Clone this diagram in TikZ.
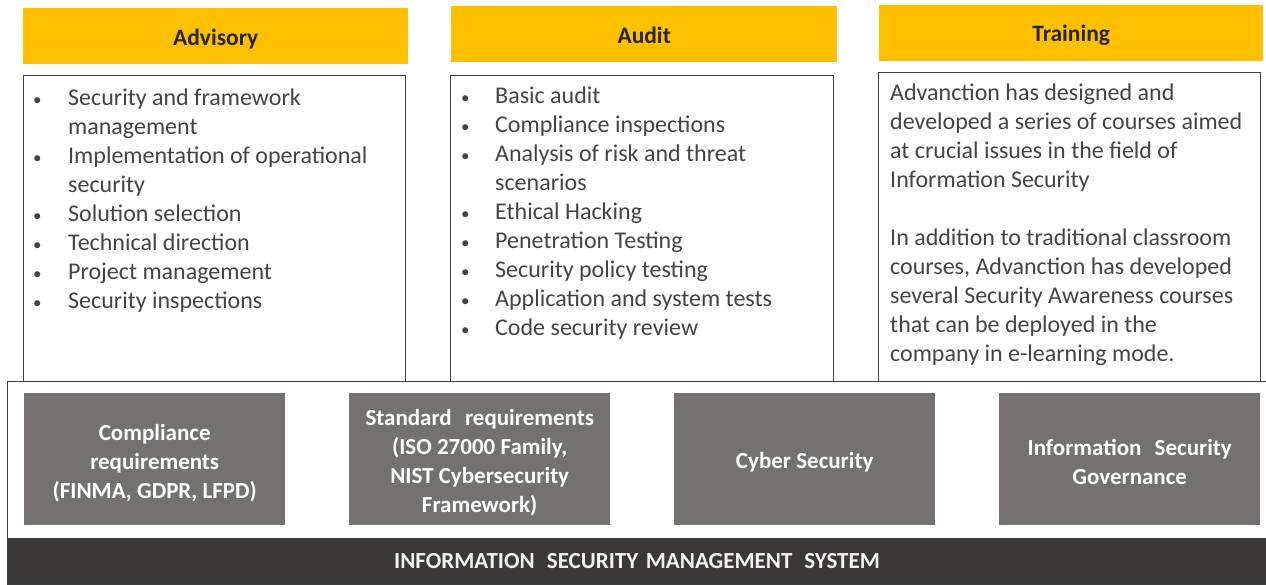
\documentclass[tikz,border=0pt]{standalone}
\usepackage{fontspec}
\setmainfont{Carlito}
\definecolor{gold}{HTML}{FFC000}
\definecolor{boxgray}{HTML}{767171}
\definecolor{bardark}{HTML}{3B3838}
\definecolor{txtgray}{HTML}{444444}
\definecolor{titletxt}{HTML}{262626}
\definecolor{linegray}{HTML}{3F3F3F}
\newcommand{\bul}{{\fontsize{17}{29}\selectfont •}}
\begin{document}
\begin{tikzpicture}[x=1pt,y=-1pt,
  headbox/.style={fill=gold, draw=none, anchor=north west, inner sep=0pt, minimum height=56pt},
  headtext/.style={text=titletxt, inner sep=0pt, font=\fontsize{23.5}{28}\selectfont\bfseries},
  panel/.style={draw=linegray, line width=1pt, fill=white},
  pillarbox/.style={fill=boxgray, anchor=north west, inner sep=0pt,
    minimum width=261pt, minimum height=132pt},
  pillartext/.style={text=white, inner sep=0pt, align=center, font=\fontsize{23}{29}\selectfont\bfseries},
  body/.style={text=txtgray, inner sep=0pt, anchor=base west, font=\fontsize{24}{29}\selectfont}]
\useasboundingbox (0,0) rectangle (1266,584);
\fill[white] (0,0) rectangle (1266,584);

% headers
\node[headbox, minimum width=385pt] (advh) at (23,8) {};
\node[headbox, minimum width=386pt] (audh) at (451,6) {};
\node[headbox, minimum width=384pt] (trah) at (879,5) {};
\node[headtext] (advht) at ([yshift=-2.5pt]advh.center) {Advisory};
\node[headtext] (audht) at ([yshift=-1pt]audh.center) {Audit};
\node[headtext] (traht) at ([yshift=-2.5pt]trah.center) {Training};

% panels
\draw[panel] (23,75) rectangle (405,381);
\draw[panel] (450,75) rectangle (833,381);
\draw[panel] (878,72) rectangle (1260,381);

% ISMS container
\draw[panel] (7,381) rectangle (1266,584);
\fill[bardark] (7,538) rectangle (1266,584);
\node[text=white!95!black, font=\fontsize{23}{28}\selectfont\bfseries] (isms) at (637,561)
  {INFORMATION\hspace{0.3em} SECURITY\hspace{0.1em} MANAGEMENT\hspace{0.3em} SYSTEM};

% body texts
\node[body] (advtxt) at (33,105) {\begin{tabular}[t]{@{}p{35pt}@{}l@{}}
\bul& Security and framework\\
& management\\
\bul& Implementation of operational\\
& security\\
\bul& Solution selection\\
\bul& Technical direction\\
\bul& Project management\\
\bul& Security inspections
\end{tabular}};

\node[body] (audtxt) at (461,103) {\begin{tabular}[t]{@{}p{34pt}@{}l@{}}
\bul& Basic audit\\
\bul& Compliance inspections\\
\bul& Analysis of risk and threat\\
& scenarios\\
\bul& Ethical Hacking\\
\bul& Penetration Testing\\
\bul& Security policy testing\\
\bul& Application and system tests\\
\bul& Code security review
\end{tabular}};

\node[body] (tratxt) at (890,100) {\begin{tabular}[t]{@{}l@{}}
Advanction has designed and\\
developed a series of courses aimed\\
at crucial issues in the field of\\
Information Security\\
\\
In addition to traditional classroom\\
courses, Advanction has developed\\
several Security Awareness courses\\
that can be deployed in the\\
company in e-learning mode.
\end{tabular}};

% pillars
\node[pillarbox] (p1) at (24,393) {};
\node[pillarbox] (p2) at (349,393) {};
\node[pillarbox] (p3) at (674,393) {};
\node[pillarbox] (p4) at (999,393) {};
\node[pillartext] (p1t) at ([yshift=-3.5pt]p1.center) {Compliance\\requirements\\(FINMA, GDPR, LFPD)};
\node[pillartext] (p2t) at ([yshift=-3pt]p2.center) {Standard\hspace{0.35em} requirements\\(ISO 27000 Family,\\NIST Cybersecurity\\Framework)};
\node[pillartext] (p3t) at ([yshift=-3.5pt]p3.center) {Cyber Security};
\node[pillartext] (p4t) at ([yshift=-3pt]p4.center) {Information\hspace{0.35em} Security\\Governance};
\end{tikzpicture}
\end{document}
